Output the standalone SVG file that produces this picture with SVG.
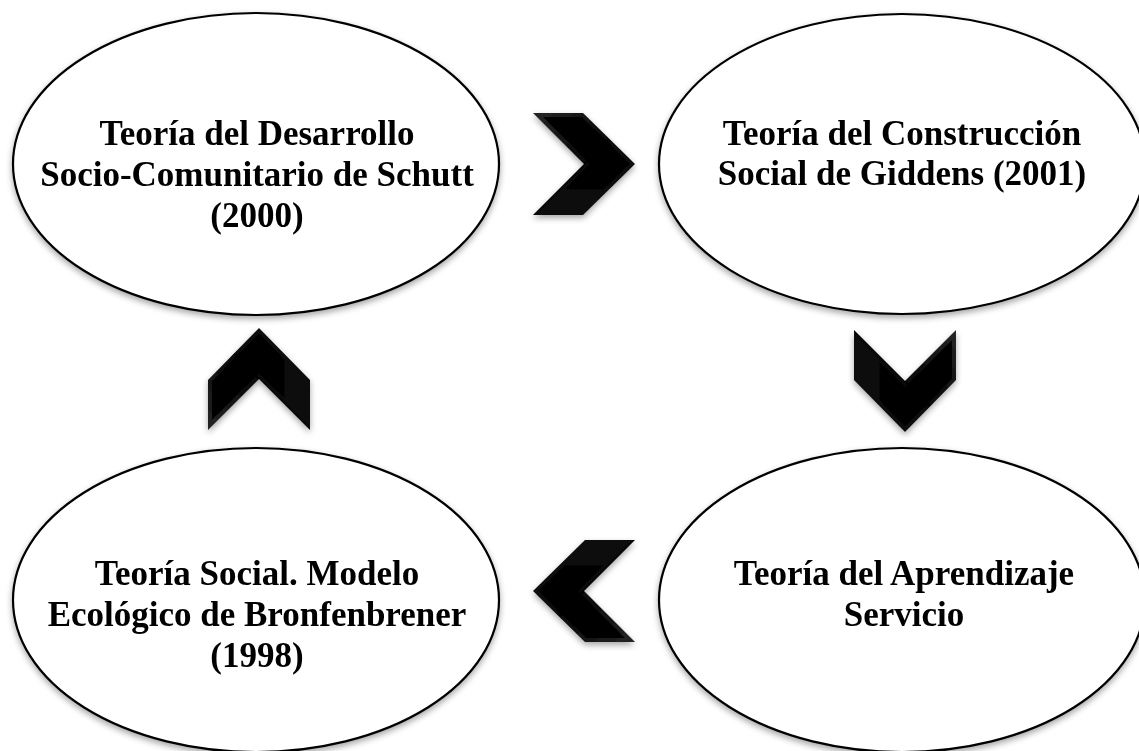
<svg xmlns="http://www.w3.org/2000/svg" xmlns:xlink="http://www.w3.org/1999/xlink" width="1139" height="751" viewBox="0 0 1139 751">
  <defs>
    <style>
      .node ellipse { fill: #ffffff; stroke: #000000; stroke-width: 2.2; }
      .label { font-family: "Liberation Serif", "Times New Roman", serif; font-weight: bold; font-size: 35px; fill: #000000; text-anchor: middle; }
    </style>
    <filter id="shadow" x="-10%" y="-10%" width="120%" height="125%">
      <feDropShadow dx="0" dy="3" stdDeviation="3" flood-color="#000000" flood-opacity="0.35"/>
    </filter>
    <linearGradient id="bevel" x1="0" y1="0" x2="1" y2="1">
      <stop offset="0" stop-color="#262626"/>
      <stop offset="0.5" stop-color="#060606"/>
      <stop offset="1" stop-color="#1c1c1c"/>
    </linearGradient>
    <linearGradient id="face" x1="0" y1="0" x2="0" y2="1">
      <stop offset="0" stop-color="#050505"/>
      <stop offset="0.5" stop-color="#000000"/>
      <stop offset="1" stop-color="#0c0c0c"/>
    </linearGradient>
    <g id="chevron">
      <polygon points="-51,-51 -1,-51 51,0 -1,51 -51,51 0,0" fill="url(#bevel)"/>
      <polygon points="-41,-47 -2,-47 46,0 -2,47 -41,47 6,0" fill="url(#face)"/>
    </g>
  </defs>
  <rect width="1139" height="751" fill="#ffffff"/>

  <g id="connectors" filter="url(#shadow)">
    <use xlink:href="#chevron" transform="translate(584,164)"/>
    <use xlink:href="#chevron" transform="translate(905,381) rotate(90)"/>
    <use xlink:href="#chevron" transform="translate(584,591) rotate(180)"/>
    <use xlink:href="#chevron" transform="translate(259,379) rotate(-90)"/>
  </g>

  <g id="node-schutt" class="node">
    <ellipse cx="256" cy="164" rx="243" ry="151" filter="url(#shadow)"/>
    <text class="label" x="257" y="145">Teoría del Desarrollo</text>
    <text class="label" x="257" y="186">Socio-Comunitario de Schutt</text>
    <text class="label" x="257" y="227">(2000)</text>
  </g>

  <g id="node-giddens" class="node">
    <ellipse cx="902" cy="164" rx="243" ry="150" filter="url(#shadow)"/>
    <text class="label" x="902" y="145">Teoría del Construcción</text>
    <text class="label" x="902" y="185">Social de Giddens (2001)</text>
  </g>

  <g id="node-aprendizaje" class="node">
    <ellipse cx="902" cy="600" rx="243" ry="152" filter="url(#shadow)"/>
    <text class="label" x="904" y="585">Teoría del Aprendizaje</text>
    <text class="label" x="904" y="626">Servicio</text>
  </g>

  <g id="node-bronfenbrener" class="node">
    <ellipse cx="256" cy="600" rx="243" ry="152" filter="url(#shadow)"/>
    <text class="label" x="257" y="585">Teoría Social. Modelo</text>
    <text class="label" x="257" y="626">Ecológico de Bronfenbrener</text>
    <text class="label" x="257" y="667">(1998)</text>
  </g>
</svg>
